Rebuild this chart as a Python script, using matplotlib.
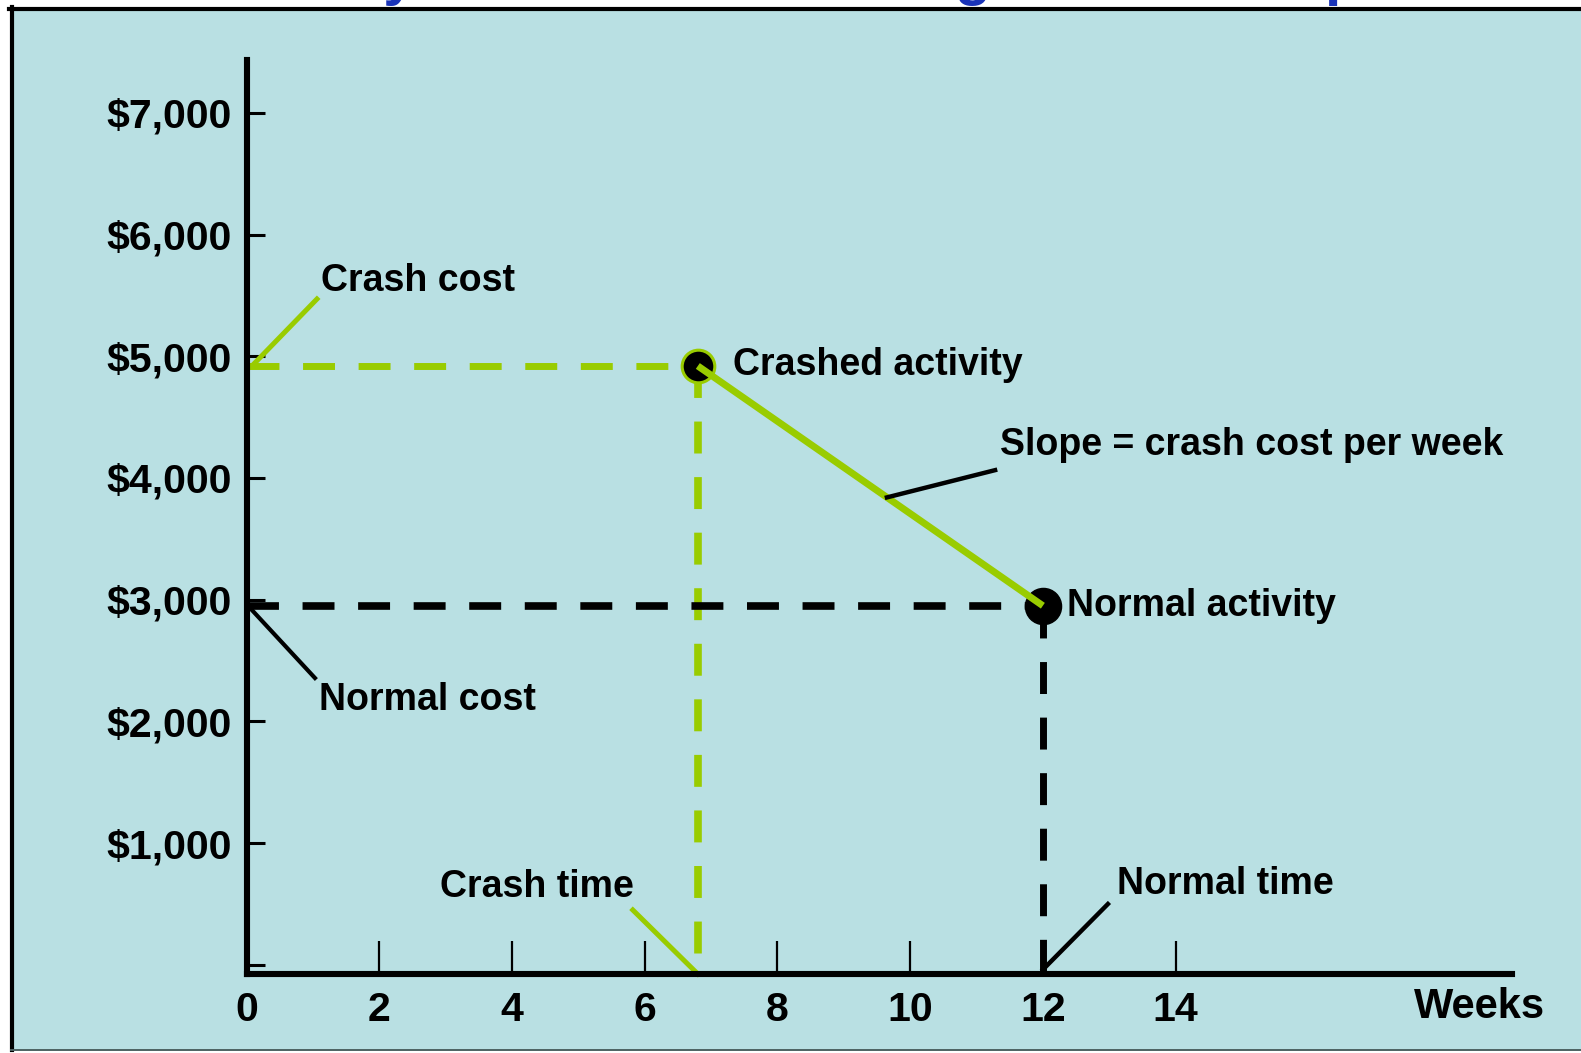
import matplotlib
matplotlib.use("Agg")
import matplotlib.pyplot as plt
from matplotlib.lines import Line2D
from matplotlib.patches import Rectangle

# --- data ---
week_ticks = [0, 2, 4, 6, 8, 10, 12, 14]
cost_ticks = [0, 1000, 2000, 3000, 4000, 5000, 6000, 7000]
cost_labels = ['', '$1,000', '$2,000', '$3,000', '$4,000', '$5,000', '$6,000', '$7,000']

crash_time, crash_cost = 6.8, 4920
normal_time, normal_cost = 12, 2950

x_max, y_min, y_max = 19.07, -76, 7434

# annotation text: (label, x, y, ha)
labels = [
    ('Crash cost', 1.12, 5618, 'left'),
    ('Crashed activity', 7.33, 4928, 'left'),
    ('Slope = crash cost per week', 11.36, 4270, 'left'),
    ('Normal activity', 12.36, 2947, 'left'),
    ('Normal cost', 1.09, 2175, 'left'),
    ('Crash time', 5.84, 638, 'right'),
    ('Normal time', 13.12, 663, 'left'),
]

BG = '#b9e0e3'
GREEN = '#99cc00'
BLUE = '#1a33b8'

plt.rcParams['font.family'] = ['Liberation Sans', 'DejaVu Sans']
plt.rcParams['font.weight'] = 'bold'
plt.rcParams['lines.scale_dashes'] = False

fig = plt.figure(figsize=(15.81, 10.53), dpi=100, facecolor='white')

# slide panel behind the chart
fig.patches.append(Rectangle((11 / 1581, 3 / 1053), 1, 1041 / 1053, transform=fig.transFigure,
                             facecolor=BG, edgecolor='none', zorder=-3))
fig.lines.append(Line2D([9 / 1581, 1], [1 - 8.5 / 1053] * 2, transform=fig.transFigure,
                        color='black', lw=3, zorder=-2))
fig.lines.append(Line2D([11.5 / 1581] * 2, [3 / 1053, 1 - 7 / 1053], transform=fig.transFigure,
                        color='black', lw=3, zorder=-2))
fig.lines.append(Line2D([11 / 1581, 1], [3 / 1053] * 2, transform=fig.transFigure,
                        color='#4d6262', lw=1.4, zorder=-2))

# slide title, mostly cut off above the panel
fig.text(203 / 1581, 1 + 6 / 1053, 'Activity Time-Cost Crashing Relationship', color=BLUE,
         fontsize=42.5, ha='left', va='baseline', zorder=-2)

ax = fig.add_axes([246.6 / 1581, 79 / 1053, (1512 - 246.6) / 1581, 914 / 1053])
ax.set_facecolor('none')
ax.set_xlim(0, x_max)
ax.set_ylim(y_min, y_max)
for side in ['top', 'right']:
    ax.spines[side].set_visible(False)
for side in ['left', 'bottom']:
    ax.spines[side].set_linewidth(4.4)

ax.set_xticks(week_ticks)
ax.set_xticklabels([str(w) for w in week_ticks])
ax.set_yticks(cost_ticks)
ax.set_yticklabels(cost_labels)
ax.tick_params(axis='y', direction='in', length=13, width=2.2, pad=11, labelsize=29.5)
ax.tick_params(axis='x', direction='in', length=24, width=1.6, pad=12, labelsize=29.5)

dash = (23, 17)
# crash cost / crash time guides
ax.plot([0, crash_time], [crash_cost, crash_cost], color=GREEN, lw=5, dashes=dash,
        clip_on=False, zorder=2)
ax.plot([crash_time, crash_time], [crash_cost, 0], color=GREEN, lw=5.5, dashes=dash,
        clip_on=False, zorder=2)
# normal cost / normal time guides
ax.plot([0, normal_time], [normal_cost, normal_cost], color='black', lw=5.5, dashes=dash,
        clip_on=False, zorder=2)
ax.plot([normal_time, normal_time], [normal_cost, y_min], color='black', lw=5, dashes=dash,
        clip_on=False, zorder=2)

# points and slope
ax.plot([crash_time], [crash_cost], 'o', ms=23.5, mfc='black', mec=GREEN, mew=2.2,
        clip_on=False, zorder=3)
ax.plot([normal_time], [normal_cost], 'o', ms=26, mfc='black', mec='black',
        clip_on=False, zorder=3)
ax.plot([crash_time, normal_time], [crash_cost, normal_cost], color=GREEN, lw=5,
        solid_capstyle='butt', clip_on=False, zorder=4)

# leader lines
ax.plot([0.08, 1.06], [crash_cost, 5470], color=GREEN, lw=3.6, clip_on=False, zorder=2)
ax.plot([0.02, 1.03], [normal_cost, 2356], color='black', lw=3, clip_on=False, zorder=2)
ax.plot([9.65, 11.28], [3840, 4064], color='black', lw=3.2, clip_on=False, zorder=5)
ax.plot([5.82, crash_time], [450, y_min], color=GREEN, lw=3.6, clip_on=False, zorder=2)
ax.plot([normal_time, 12.98], [-40, 499], color='black', lw=3.2, clip_on=False, zorder=2)

for text, x, y, ha in labels:
    ax.text(x, y, text, fontsize=27, ha=ha, va='center', color='black')

ax.text(19.57, -348, 'Weeks', fontsize=30, ha='right', va='center', color='black')

fig.savefig('out.png', dpi=100, facecolor='white')
